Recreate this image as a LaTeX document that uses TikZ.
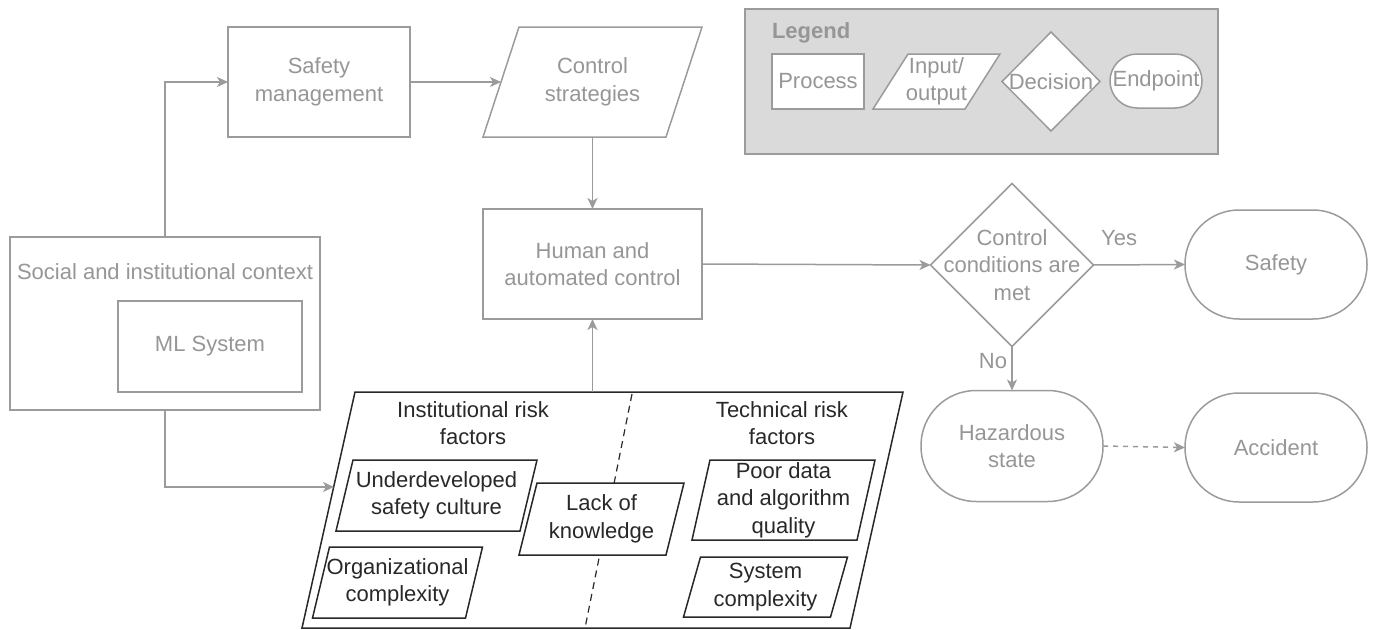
\documentclass[tikz,border=0pt]{standalone}
\usepackage{fontspec}
\setmainfont{Liberation Sans}
\usetikzlibrary{shapes.geometric,arrows.meta,calc}
\definecolor{flowgray}{RGB}{155,155,155}
\definecolor{textgray}{RGB}{150,150,150}
\definecolor{legendfill}{RGB}{218,218,218}
\definecolor{riskblack}{RGB}{40,40,40}
\newcommand{\flowfont}{\fontsize{22}{27.5}\selectfont}
% parallelogram round a node: half of the slant as #3
\newcommand{\slantframe}[3][]{%
  \draw[#1] ($(#2.south west)+(-#3,0)$) -- ($(#2.north west)+(#3,0)$)
    -- ($(#2.north east)+(#3,0)$) -- ($(#2.south east)+(-#3,0)$) -- cycle;}
\begin{document}
\begin{tikzpicture}[x=1pt,y=-1pt,font=\flowfont,
    every node/.style={inner sep=0pt, outer sep=0pt, align=center},
    proc/.style={draw=flowgray, line width=1.5pt, text=textgray},
    ionode/.style={text=textgray},
    ioline/.style={draw=flowgray, line width=1.5pt},
    decision/.style={diamond, draw=flowgray, line width=1.5pt, text=textgray},
    endpt/.style={draw=flowgray, line width=1.5pt, text=textgray, rounded corners=#1},
    riskline/.style={draw=riskblack, line width=1.5pt},
    risknode/.style={text=riskblack},
    arr/.style={draw=flowgray, line width=1.5pt, -{Stealth[length=11pt,width=10pt,inset=3pt]}},
    lbl/.style={text=textgray}]
  \useasboundingbox (0,0) rectangle (1373,629);

  % legend
  \node[draw=flowgray, line width=1.5pt, fill=legendfill, minimum width=473, minimum height=145] (legend) at (981.5,81.5) {};
  \node[font=\flowfont\bfseries, text=textgray, anchor=west] (legendtitle) at (772,33) {Legend};
  \node[proc, fill=white, minimum width=92, minimum height=55] (lgproc) at (818,81.5) {Process};
  \node[ionode, minimum width=92, minimum height=55] (lgio) at (936.5,81.5) {};
  \slantframe[ioline, fill=white]{lgio}{17.5}
  \node[ionode] (lgiotext) at (lgio) {Input/\\output};
  \node[decision, fill=white, minimum width=98, minimum height=99,
    label={[lbl]center:Decision}] (lgdec) at (1051,81.5) {};
  \node[endpt=27pt, fill=white, minimum width=92, minimum height=54] (lgend) at (1156,81) {Endpoint};

  % flow
  \node[proc, minimum width=182, minimum height=110] (safety) at (319,82) {Safety\\management};
  \node[ionode, minimum width=183, minimum height=110] (ctrl) at (592.5,82) {Control\\strategies};
  \slantframe[ioline]{ctrl}{18}
  \node[proc, minimum width=219, minimum height=110] (human) at (592.5,264) {Human and\\automated control};
  \node[proc, minimum width=310, minimum height=173] (social) at (165,323.5) {};
  \node[lbl] (socialtitle) at (165,272) {Social and institutional context};
  \node[proc, minimum width=184, minimum height=91] (ml) at (210,346.5) {ML System};

  \node[decision, minimum width=163, minimum height=163,
    label={[lbl]center:Control\\conditions are\\met}] (cond) at (1012,265) {};
  \node[endpt=54pt, minimum width=182, minimum height=109] (safe) at (1276,264.5) {Safety};
  \node[endpt=55pt, minimum width=182, minimum height=111] (haz) at (1012,446) {Hazardous\\state};
  \node[endpt=54pt, minimum width=182, minimum height=109] (acc) at (1276,447.5) {Accident};

  % risk factors
  \node[minimum width=548, minimum height=236] (risk) at (602.5,510) {};
  \slantframe[riskline]{risk}{26.5}
  \node[risknode] (insttitle) at (473,423) {Institutional risk\\factors};
  \node[risknode] (techtitle) at (782,423) {Technical risk\\factors};
  \coordinate (divtop) at (632,394);
  \coordinate (divbot) at (585,628);
  \draw[riskblack, line width=1.2pt, dash pattern=on 7pt off 5pt] (divtop) -- (divbot);
  \node[risknode, fill=white, minimum width=147, minimum height=72] (knowledge) at (601.5,519) {Lack of\\knowledge};
  \slantframe[riskline]{knowledge}{9}
  \node[risknode, minimum width=184, minimum height=71] (culture) at (436.5,495.5) {Underdeveloped\\safety culture};
  \slantframe[riskline]{culture}{8.5}
  \node[risknode, minimum width=153, minimum height=71] (orgcplx) at (397.5,582.5) {Organizational\\complexity};
  \slantframe[riskline]{orgcplx}{8.5}
  \node[risknode, minimum width=165, minimum height=80] (dataqual) at (783.5,500) {Poor data\\and algorithm\\quality};
  \slantframe[riskline]{dataqual}{9}
  \node[risknode, minimum width=147, minimum height=60] (syscplx) at (765.5,587) {System\\complexity};
  \slantframe[riskline]{syscplx}{8.5}
  \coordinate (riskin) at (334,487);

  % connectors
  \draw[arr] (social.north) |- (safety.west);
  \draw[arr] (safety.east) -- (ctrl);
  \draw[arr] (ctrl.south) -- (human.north);
  \draw[arr] (human.south |- risk.north) -- (human.south);
  \draw[arr] (social.south) |- (riskin);
  \draw[arr] (human.east) -- (cond.west);
  \draw[arr] (cond.east) -- node[lbl, pos=0.28, above=19pt] {Yes} (safe.west);
  \draw[arr] (cond.south) -- node[lbl, pos=0.32, left=5pt] {No} (haz.north);
  \draw[arr, dash pattern=on 5pt off 5pt] (haz.east) -- (acc.west);
\end{tikzpicture}
\end{document}
